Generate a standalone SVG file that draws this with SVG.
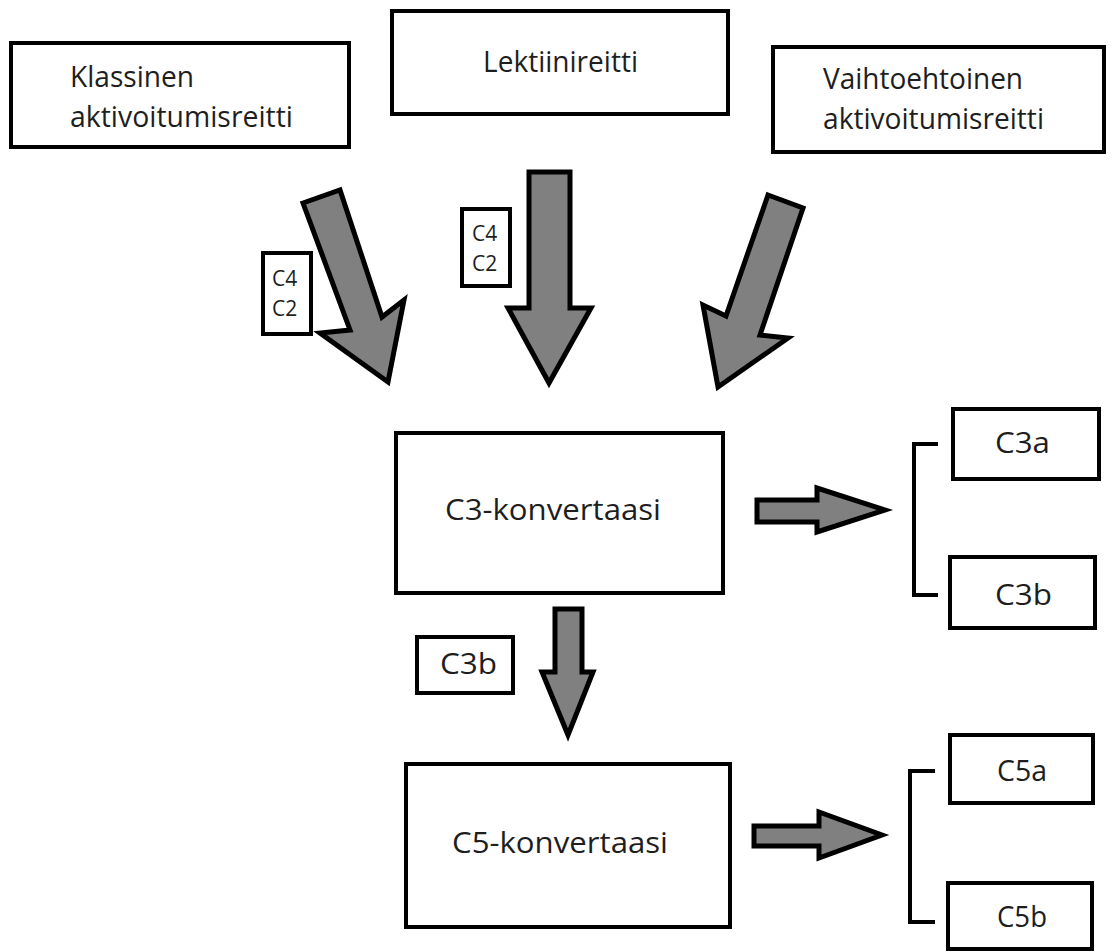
<svg xmlns="http://www.w3.org/2000/svg" width="1112" height="952" viewBox="0 0 1112 952">
<style>
.box{fill:#fff;stroke:#000;stroke-width:4}
.arr{fill:#808080;stroke:#000;stroke-width:5;stroke-linejoin:miter}
.br{fill:none;stroke:#000;stroke-width:4}
.t{font-family:"Open Sans","Noto Sans",sans-serif;font-size:29px;fill:#1e1e1e}
.s{font-family:"Open Sans","Noto Sans",sans-serif;font-size:21px;fill:#1e1e1e}
</style>
<rect width="1112" height="952" fill="#fff"/>
<g id="connectors">
<polygon class="arr" points="303,203 340,190 382,317 404,300 388,382 320,333 350,330"/>
<polygon class="arr" points="529,172 570,172 570,308 591,308 549,383 508,308 529,308"/>
<polygon class="arr" points="768,195 803,208 760,335 788,338 718,387 703,305 726,316"/>
<polygon class="arr" points="757,500 817,500 817,488 885,510 817,532 817,522 757,522"/>
<polygon class="arr" points="555,609 582,609 582,672 593,672 568,735 542,672 555,672"/>
<polygon class="arr" points="754,826 819,826 819,812 882,835 819,858 819,846 754,846"/>
<polyline class="br" points="938,444 914,444 914,595 938,595"/>
<polyline class="br" points="935,771 910,771 910,922 935,922"/>
</g>
<g id="klassinen">
<rect class="box" x="11" y="43" width="338" height="104"/>
<text class="t" x="70" y="87" textLength="124" lengthAdjust="spacingAndGlyphs">Klassinen</text>
<text class="t" x="70" y="127" textLength="223" lengthAdjust="spacingAndGlyphs">aktivoitumisreitti</text>
</g>
<g id="lektiini">
<rect class="box" x="392" y="11" width="336" height="103"/>
<text class="t" x="483" y="72" textLength="155" lengthAdjust="spacingAndGlyphs">Lektiinireitti</text>
</g>
<g id="vaihtoehtoinen">
<rect class="box" x="773" y="47" width="331" height="105"/>
<text class="t" x="823" y="89" textLength="200" lengthAdjust="spacingAndGlyphs">Vaihtoehtoinen</text>
<text class="t" x="823" y="129" textLength="221" lengthAdjust="spacingAndGlyphs">aktivoitumisreitti</text>
</g>
<g id="label-c4c2-left">
<rect class="box" x="263" y="253" width="48" height="81"/>
<text class="s" x="272" y="286">C4</text>
<text class="s" x="272" y="316">C2</text>
</g>
<g id="label-c4c2-mid">
<rect class="box" x="462" y="209" width="48" height="77"/>
<text class="s" x="472" y="241">C4</text>
<text class="s" x="472" y="271">C2</text>
</g>
<g id="c3-konvertaasi">
<rect class="box" x="396" y="433" width="327" height="160"/>
<text class="t" x="445" y="520" textLength="216" lengthAdjust="spacingAndGlyphs">C3-konvertaasi</text>
</g>
<g id="c3a">
<rect class="box" x="953" y="409" width="146" height="70"/>
<text class="t" x="995" y="453" textLength="55" lengthAdjust="spacingAndGlyphs">C3a</text>
</g>
<g id="c3b">
<rect class="box" x="950" y="557" width="145" height="71"/>
<text class="t" x="995" y="605" textLength="57" lengthAdjust="spacingAndGlyphs">C3b</text>
</g>
<g id="label-c3b">
<rect class="box" x="417" y="637" width="96" height="56"/>
<text class="t" x="440" y="674" textLength="57" lengthAdjust="spacingAndGlyphs">C3b</text>
</g>
<g id="c5-konvertaasi">
<rect class="box" x="406" y="764" width="324" height="163"/>
<text class="t" x="452" y="853" textLength="216" lengthAdjust="spacingAndGlyphs">C5-konvertaasi</text>
</g>
<g id="c5a">
<rect class="box" x="950" y="735" width="143" height="68"/>
<text class="t" x="997" y="781" textLength="50" lengthAdjust="spacingAndGlyphs">C5a</text>
</g>
<g id="c5b">
<rect class="box" x="948" y="883" width="144" height="66"/>
<text class="t" x="997" y="927" textLength="50" lengthAdjust="spacingAndGlyphs">C5b</text>
</g>
</svg>
